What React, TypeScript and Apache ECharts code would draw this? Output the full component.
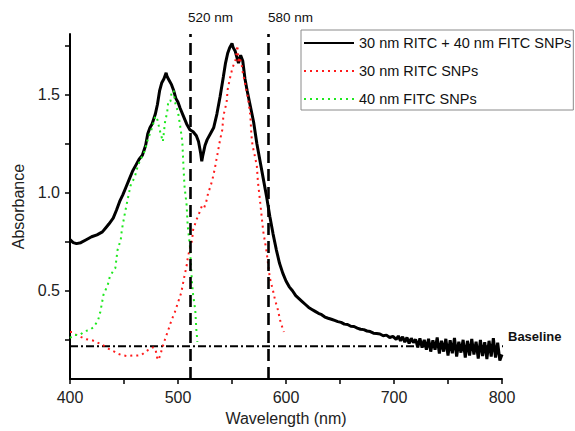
import React, { useEffect, useRef } from "react";
import * as echarts from "echarts";

const FONT = "'Liberation Sans', Arial, sans-serif";

const seriesNames = ["30 nm RITC + 40 nm FITC SNPs", "30 nm RITC SNPs", "40 nm FITC SNPs"];

// Mixed sample (black)
const mixWl = [
  400, 403, 406, 410, 415, 420, 425, 430, 433, 436, 440, 443, 446, 449, 452, 455, 458, 461, 464, 467,
  470, 472, 474, 476, 479, 481, 483, 485, 487, 489, 490, 492, 494, 496, 498, 500, 502, 505, 508, 511,
  514, 517, 519, 521, 522, 523, 525, 527, 530, 533, 536, 539, 542, 544, 546, 548, 550, 551, 553, 555,
  556, 558, 560, 562, 564, 567, 570, 573, 576, 579, 582, 585, 588, 591, 594, 597, 600, 603, 606, 609,
  612, 615, 618, 621, 624, 627, 630, 633, 636, 639, 642, 645, 648, 651, 654, 657, 660, 663, 666, 669,
  672, 675, 678, 681, 684, 687, 690, 693, 696, 699, 702, 704, 706, 708, 710, 712, 714, 716, 718, 720,
  722, 724, 726, 728, 730, 732, 734, 736, 738, 740, 742, 744, 746, 748, 750, 752, 754, 756, 758, 760,
  762, 764, 766, 768, 770, 772, 774, 776, 778, 780, 782, 784, 786, 788, 790, 792, 794, 796, 798, 800,
];
const mixAbs = [
  0.76, 0.745, 0.74, 0.745, 0.76, 0.775, 0.785, 0.8, 0.82, 0.84, 0.87, 0.91, 0.955, 0.99, 1.03, 1.07, 1.11, 1.14, 1.17, 1.19,
  1.24, 1.3, 1.33, 1.35, 1.4, 1.45, 1.52, 1.56, 1.58, 1.61, 1.59, 1.57, 1.55, 1.52, 1.48, 1.46, 1.43, 1.39, 1.35, 1.32,
  1.31, 1.29, 1.26, 1.2, 1.16, 1.19, 1.24, 1.27, 1.3, 1.33, 1.4, 1.49, 1.59, 1.66, 1.71, 1.74, 1.76, 1.74, 1.72, 1.68,
  1.66, 1.7, 1.67, 1.58, 1.52, 1.44, 1.36, 1.25, 1.16, 1.07, 0.98, 0.88, 0.79, 0.71, 0.64, 0.59, 0.55, 0.52, 0.5, 0.475,
  0.46, 0.445, 0.43, 0.415, 0.405, 0.395, 0.385, 0.378, 0.366, 0.36, 0.355, 0.349, 0.343, 0.339, 0.33, 0.328, 0.319, 0.318, 0.31, 0.304,
  0.302, 0.295, 0.292, 0.284, 0.282, 0.28, 0.271, 0.274, 0.262, 0.268, 0.252, 0.27, 0.245, 0.266, 0.238, 0.262, 0.232, 0.258, 0.236, 0.252,
  0.212, 0.258, 0.21, 0.25, 0.2, 0.255, 0.19, 0.248, 0.2, 0.262, 0.18, 0.245, 0.19, 0.255, 0.17, 0.248, 0.182, 0.26, 0.165, 0.24,
  0.185, 0.25, 0.16, 0.245, 0.17, 0.255, 0.175, 0.24, 0.155, 0.25, 0.168, 0.238, 0.152, 0.245, 0.165, 0.258, 0.16, 0.235, 0.145, 0.175,
];

// 30 nm RITC SNPs (red dotted)
const ritcWl = [
  400, 402, 404, 410, 415, 421, 428, 433, 437, 441, 444, 448, 453, 458, 462, 466, 469, 472, 475, 477,
  479, 480, 481, 482, 484, 485, 488, 491, 494, 497, 500, 503, 506, 508, 509, 511, 513, 514, 517, 520,
  522, 524, 526, 528, 530, 532, 534, 537, 539, 541, 542, 545, 546, 548, 550, 552, 553, 554, 555, 556,
  557, 558, 559, 560, 562, 565, 567, 568, 569, 571, 573, 574, 576, 578, 579, 582, 585, 588, 590, 592,
  595, 598,
];
const ritcAbs = [
  0.29, 0.29, 0.28, 0.265, 0.253, 0.247, 0.23, 0.215, 0.2, 0.19, 0.18, 0.172, 0.167, 0.17, 0.17, 0.172, 0.185, 0.197, 0.205, 0.212,
  0.205, 0.18, 0.15, 0.148, 0.18, 0.2, 0.253, 0.3, 0.35, 0.39, 0.44, 0.49, 0.576, 0.627, 0.667, 0.717, 0.757, 0.81, 0.86, 0.9,
  0.93, 0.92, 0.95, 1.0, 1.03, 1.07, 1.12, 1.21, 1.27, 1.32, 1.39, 1.46, 1.525, 1.58, 1.626, 1.66, 1.667, 1.7, 1.75, 1.66,
  1.69, 1.67, 1.65, 1.61, 1.56, 1.475, 1.39, 1.29, 1.24, 1.19, 1.136, 1.055, 0.955, 0.85, 0.8, 0.7, 0.566, 0.5, 0.45, 0.414,
  0.34, 0.29,
];

// 40 nm FITC SNPs (green dotted)
const fitcWl = [
  400, 404, 409, 414, 418, 422, 426, 428, 431, 435, 437, 442, 444, 447, 448, 451, 453, 456, 460, 463,
  469, 472, 476, 479, 481, 483, 485, 486, 488, 490, 491, 493, 494, 496, 497, 500, 502, 504, 505, 506,
  508, 509, 510, 511, 512, 513, 514, 516, 517, 518,
];
const fitcAbs = [
  0.26, 0.275, 0.275, 0.295, 0.3, 0.315, 0.35, 0.39, 0.48, 0.53, 0.575, 0.616, 0.707, 0.76, 0.81, 0.9, 0.955, 1.035, 1.08, 1.14,
  1.21, 1.27, 1.33, 1.39, 1.37, 1.32, 1.28, 1.26, 1.36, 1.41, 1.465, 1.465, 1.51, 1.52, 1.465, 1.41, 1.34, 1.26, 1.14, 1.035,
  0.935, 0.83, 0.78, 0.73, 0.63, 0.54, 0.48, 0.4, 0.3, 0.24,
];

// Annotations
const markerWl = [511, 584];
const markerLabels = ["520 nm", "580 nm"];
const baselineValue = 0.217;
const baselineSpan = [400, 832];

const xTicks = [400, 450, 500, 550, 600, 650, 700, 750, 800];
const xLabels = [400, 500, 600, 700, 800];
const yTicks = [0.25, 0.5, 0.75, 1.0, 1.25, 1.5, 1.75];
const yLabels = [0.5, 1.0, 1.5];

const zip = (a: number[], b: number[]) => a.map((v, i) => [v, b[i]]);

export default function App() {
  const ref = useRef<HTMLDivElement>(null);
  useEffect(() => {
    if (!ref.current) return;
    const chart = echarts.init(ref.current, null, { renderer: "svg" });
    chart.setOption({
      animation: false,
      backgroundColor: "#fff",
      textStyle: { fontFamily: FONT },
      grid: { left: 70, right: 73, top: 34, bottom: 49 },
      legend: {
        orient: "vertical",
        left: 301,
        top: 30,
        padding: [5, 2, 3, 2],
        itemWidth: 50,
        itemHeight: 16,
        itemGap: 12,
        borderColor: "#8a8a8a",
        borderWidth: 1,
        itemStyle: { opacity: 0 },
        data: seriesNames,
        textStyle: { fontSize: 14.5, color: "#111", fontFamily: FONT, lineHeight: 16 },
      },
      xAxis: {
        type: "value",
        min: 400,
        max: 800,
        name: "Wavelength (nm)",
        nameLocation: "middle",
        nameGap: 30,
        nameTextStyle: { fontSize: 16, color: "#222", fontFamily: FONT },
        axisLine: { lineStyle: { color: "#000", width: 2 } },
        axisTick: { show: true, inside: false, length: 5, customValues: xTicks, lineStyle: { color: "#000", width: 1.5 } },
        axisLabel: { customValues: xLabels, fontSize: 16, color: "#222", margin: 10, fontFamily: FONT },
        splitLine: { show: false },
      },
      yAxis: {
        type: "value",
        min: 0.05,
        max: 1.808,
        name: "Absorbance",
        nameLocation: "middle",
        nameGap: 44,
        nameTextStyle: { fontSize: 16, color: "#222", fontFamily: FONT },
        axisLine: { show: true, lineStyle: { color: "#000", width: 2 } },
        axisTick: { show: true, inside: false, length: 5, customValues: yTicks, lineStyle: { color: "#000", width: 1.5 } },
        axisLabel: {
          customValues: yLabels,
          fontSize: 16,
          color: "#222",
          margin: 10,
          fontFamily: FONT,
          formatter: (v: number) => v.toFixed(1),
        },
        splitLine: { show: false },
      },
      series: [
        {
          name: seriesNames[0],
          type: "line",
          data: zip(mixWl, mixAbs),
          symbol: "none",
          lineStyle: { color: "#000", width: 3 },
          itemStyle: { color: "#000" },
          z: 2,
          markLine: {
            silent: true,
            symbol: "none",
            label: { show: false },
            lineStyle: { color: "#000", width: 2.6, type: [12, 6] },
            data: markerWl.map((w) => ({ xAxis: w })),
          },
        },
        {
          name: seriesNames[1],
          type: "line",
          data: zip(ritcWl, ritcAbs),
          symbol: "none",
          lineStyle: { color: "#ff1a1a", width: 2, type: [2, 4] },
          itemStyle: { color: "#ff1a1a" },
          z: 3,
        },
        {
          name: seriesNames[2],
          type: "line",
          data: zip(fitcWl, fitcAbs),
          symbol: "none",
          lineStyle: { color: "#1ee81e", width: 2, type: [2, 4] },
          itemStyle: { color: "#1ee81e" },
          z: 3,
        },
        {
          name: "Baseline",
          type: "line",
          data: baselineSpan.map((w) => [w, baselineValue]),
          symbol: "none",
          clip: false,
          lineStyle: { color: "#000", width: 2, type: [8, 3, 2, 3] },
          z: 1,
        },
      ],
      graphic: [
        {
          type: "text",
          left: 188,
          top: 10,
          style: { text: markerLabels[0], fontSize: 13.5, fill: "#111", fontFamily: FONT },
        },
        {
          type: "text",
          left: 268,
          top: 10,
          style: { text: markerLabels[1], fontSize: 13.5, fill: "#111", fontFamily: FONT },
        },
        {
          type: "text",
          left: 508,
          top: 330,
          style: { text: "Baseline", fontSize: 13, fontWeight: "bold", fill: "#111", fontFamily: FONT },
        },
      ],
    });
    return () => chart.dispose();
  }, []);
  return (
    <div
      ref={ref}
      style={{ position: "fixed", left: 0, top: 0, width: 575, height: 431, background: "#fff" }}
    />
  );
}
